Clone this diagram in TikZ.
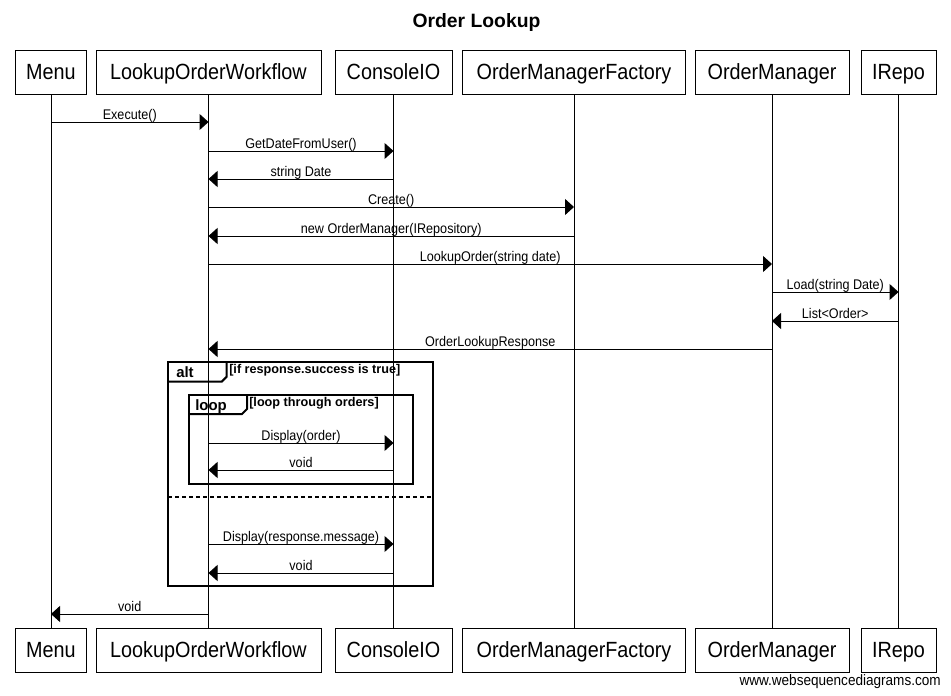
\documentclass[tikz,border=0pt]{standalone}
\usepackage{fontspec}
\setmainfont{Liberation Sans}
\newfontfamily\wsd[FakeStretch=0.9]{Liberation Sans}
\usetikzlibrary{arrows.meta}
\begin{document}
\begin{tikzpicture}[x=0.75pt,y=-0.75pt,
  actor/.style={draw,line width=0.75pt,minimum height=33pt,inner sep=0pt,
    text height=11.8pt,text depth=0pt,yshift=0pt,font=\wsd\fontsize{16.5}{19}\selectfont},
  life/.style={line width=0.75pt},
  msg/.style={line width=0.75pt,-{Triangle[length=6.75pt,width=12pt]}},
  lbl/.style={anchor=base,inner sep=0pt,yshift=2.25pt,font=\wsd\fontsize{10.5}{12}\selectfont},
  frame/.style={line width=1.5pt},
  tabtxt/.style={anchor=base west,inner sep=0pt,font=\bfseries\fontsize{11.2}{13}\selectfont},
  cond/.style={anchor=base west,inner sep=0pt,font=\bfseries\fontsize{9.5}{11}\selectfont}]
\fill[white] (0,0) rectangle (951,696);
\useasboundingbox (0,0) rectangle (951,696);

\node[anchor=base,inner sep=0pt,font=\bfseries\fontsize{14.5}{17}\selectfont] (title) at (476.5,27) {Order Lookup};

% top actors
\node[actor,minimum width={71*0.75pt}]  (menuT) at (51,72)    {Menu};
\node[actor,minimum width={225*0.75pt}] (lowT)  at (208.5,72) {LookupOrderWorkflow};
\node[actor,minimum width={117*0.75pt}] (cioT)  at (393.5,72) {ConsoleIO};
\node[actor,minimum width={223*0.75pt}] (omfT)  at (574,72)   {OrderManagerFactory};
\node[actor,minimum width={154*0.75pt}] (omT)   at (772,72)   {OrderManager};
\node[actor,minimum width={75*0.75pt}]  (irT)   at (898.5,72) {IRepo};
% bottom actors
\node[actor,minimum width={71*0.75pt}]  (menuB) at (51,650)    {Menu};
\node[actor,minimum width={225*0.75pt}] (lowB)  at (208.5,650) {LookupOrderWorkflow};
\node[actor,minimum width={117*0.75pt}] (cioB)  at (393.5,650) {ConsoleIO};
\node[actor,minimum width={223*0.75pt}] (omfB)  at (574,650)   {OrderManagerFactory};
\node[actor,minimum width={154*0.75pt}] (omB)   at (772,650)   {OrderManager};
\node[actor,minimum width={75*0.75pt}]  (irB)   at (898.5,650) {IRepo};

% lifelines
\draw[life] (menuT.south) -- (menuB.north);
\draw[life] (lowT.south) -- (lowB.north);
\draw[life] (cioT.south) -- (cioB.north);
\draw[life] (omfT.south) -- (omfB.north);
\draw[life] (omT.south) -- (omB.north);
\draw[life] (irT.south) -- (irB.north);

% frames
\draw[frame] (168,362) rectangle (433,586);
\draw[frame] (168,381.7) -- (221.7,381.7) -- (226.7,376.7) -- (226.7,362);
\node[tabtxt] (altlbl) at (176,377.5) {alt};
\node[cond] (altcond) at (229,373.5) {[if response.success is true]};
\draw[frame,dash pattern=on 3pt off 2.25pt] (168,497) -- (433,497);
\draw[frame] (189,395) rectangle (413,484);
\draw[frame] (189,414) -- (242,414) -- (247,409) -- (247,395);
\node[tabtxt] (looplbl) at (195,410) {loop};
\node[cond] (loopcond) at (249,406.5) {[loop through orders]};

% messages
\draw[msg] (menuT |- 0,122) -- node[lbl] (l1) {Execute()} (lowT |- 0,122);
\draw[msg] (lowT |- 0,151) -- node[lbl] (l2) {GetDateFromUser()} (cioT |- 0,151);
\draw[msg] (cioT |- 0,179) -- node[lbl] (l3) {string Date} (lowT |- 0,179);
\draw[msg] (lowT |- 0,207) -- node[lbl] (l4) {Create()} (omfT |- 0,207);
\draw[msg] (omfT |- 0,236) -- node[lbl] (l5) {new OrderManager(IRepository)} (lowT |- 0,236);
\draw[msg] (lowT |- 0,264) -- node[lbl] (l6) {LookupOrder(string date)} (omT |- 0,264);
\draw[msg] (omT |- 0,292) -- node[lbl] (l7) {Load(string Date)} (irT |- 0,292);
\draw[msg] (irT |- 0,321) -- node[lbl] (l8) {List<Order>} (omT |- 0,321);
\draw[msg] (omT |- 0,349) -- node[lbl] (l9) {OrderLookupResponse} (lowT |- 0,349);
\draw[msg] (lowT |- 0,443) -- node[lbl] (l10) {Display(order)} (cioT |- 0,443);
\draw[msg] (cioT |- 0,470) -- node[lbl] (l11) {void} (lowT |- 0,470);
\draw[msg] (lowT |- 0,544) -- node[lbl] (l12) {Display(response.message)} (cioT |- 0,544);
\draw[msg] (cioT |- 0,573) -- node[lbl] (l13) {void} (lowT |- 0,573);
\draw[msg] (lowT |- 0,614) -- node[lbl] (l14) {void} (menuT |- 0,614);

\node[anchor=base east,inner sep=0pt,font=\wsd\fontsize{11.3}{13}\selectfont] (foot) at (941,685) {www.websequencediagrams.com};
\end{tikzpicture}
\end{document}
